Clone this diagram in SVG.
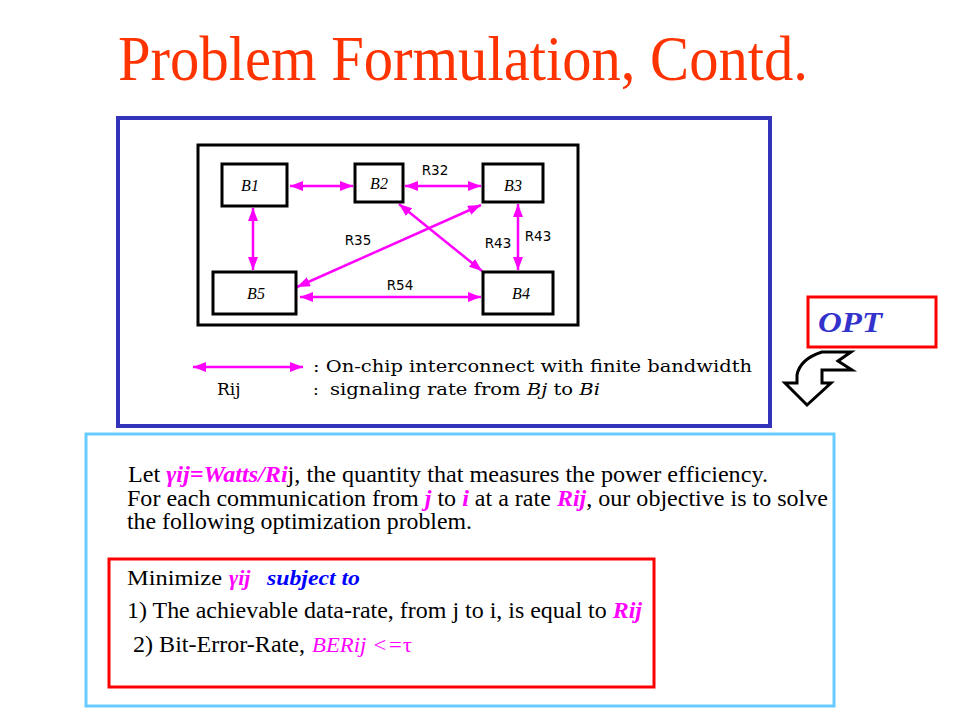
<svg xmlns="http://www.w3.org/2000/svg" width="960" height="720" viewBox="0 0 960 720">
  <defs>
    <marker id="ah" viewBox="0 0 13 10" refX="13" refY="5" markerWidth="13" markerHeight="10" markerUnits="userSpaceOnUse" orient="auto-start-reverse">
      <path d="M0,0 L13,5 L0,10 Z" fill="#FF00FF"/>
    </marker>
    <style>
      .box { fill: #FFFFFF; stroke: #000000; stroke-width: 3; }
      .blab { font-family: "Liberation Serif", "Times New Roman", serif; font-style: italic; font-size: 16px; fill: #000; text-anchor: middle; }
      .elab { font-family: "DejaVu Sans", Verdana, sans-serif; font-size: 13.5px; fill: #000; text-anchor: middle; }
      .link { stroke: #FF00FF; stroke-width: 2.5; fill: none; marker-start: url(#ah); marker-end: url(#ah); }
      .serif { font-family: "Liberation Serif", "Times New Roman", serif; fill: #000; }
      .leg { font-family: "DejaVu Serif", "Liberation Serif", serif; font-size: 17px; fill: #000; }
      .mg { fill: #FF00FF; font-weight: bold; font-style: italic; }
      .mgi { fill: #FF00FF; font-style: italic; }
      .bl { fill: #0000FF; font-weight: bold; font-style: italic; }
    </style>
  </defs>
  <rect width="960" height="720" fill="#FFFFFF"/>

  <text x="118" y="80" font-family="Liberation Serif, Times New Roman, serif" font-size="63" fill="#FF3300" textLength="690" lengthAdjust="spacingAndGlyphs">Problem Formulation, Contd.</text>

  <!-- Upper diagram panel -->
  <rect x="118" y="118" width="652" height="308" fill="none" stroke="#3333BB" stroke-width="4"/>
  <rect x="198" y="145" width="380" height="180" fill="none" stroke="#000000" stroke-width="3"/>

  <g id="connectors">
    <line class="link" x1="290" y1="186" x2="353" y2="186"/>
    <line class="link" x1="405" y1="186" x2="481" y2="186"/>
    <line class="link" x1="253" y1="208" x2="253" y2="270"/>
    <line class="link" x1="518" y1="204" x2="518" y2="270"/>
    <line class="link" x1="481" y1="205" x2="297" y2="287"/>
    <line class="link" x1="399" y1="204" x2="482" y2="271"/>
    <line class="link" x1="300" y1="297" x2="481" y2="297"/>
    <text class="elab" x="435" y="175">R32</text>
    <text class="elab" x="358" y="245">R35</text>
    <text class="elab" x="498" y="248">R43</text>
    <text class="elab" x="538" y="241">R43</text>
    <text class="elab" x="400" y="290">R54</text>
  </g>

  <g id="B1"><rect class="box" x="222" y="164" width="65" height="42"/><text class="blab" x="250" y="191">B1</text></g>
  <g id="B2"><rect class="box" x="355" y="164" width="48" height="38"/><text class="blab" x="379" y="189">B2</text></g>
  <g id="B3"><rect class="box" x="483" y="164" width="60" height="38"/><text class="blab" x="513" y="191">B3</text></g>
  <g id="B5"><rect class="box" x="213" y="272" width="83" height="42"/><text class="blab" x="256" y="299">B5</text></g>
  <g id="B4"><rect class="box" x="483" y="272" width="70" height="42"/><text class="blab" x="521" y="299">B4</text></g>

  <!-- Legend -->
  <g id="legend">
    <line class="link" x1="193" y1="367" x2="303" y2="367"/>
    <text class="leg" x="313" y="372" textLength="439" lengthAdjust="spacingAndGlyphs">: On-chip interconnect with finite bandwidth</text>
    <text class="leg" x="217" y="395">Rij</text>
    <text class="leg" x="313" y="395">:</text>
    <text class="leg" x="330" y="395" textLength="270" lengthAdjust="spacingAndGlyphs">signaling rate from <tspan font-style="italic">Bj</tspan> to <tspan font-style="italic">Bi</tspan></text>
  </g>

  <!-- OPT -->
  <g id="opt">
    <rect x="808" y="297" width="128" height="50" fill="#FFFFFF" stroke="#FF0000" stroke-width="3"/>
    <text x="818" y="332" font-family="Liberation Serif, Times New Roman, serif" font-size="30" font-weight="bold" font-style="italic" fill="#3333CC" textLength="64" lengthAdjust="spacingAndGlyphs">OPT</text>
    <path d="M822,352 L851,352 L838,361 L852,370 L822,370 L822,383 L831,383 L807,405 L785,383 L797,383 L797,375 Q800,359 822,352 Z" fill="#FFFFFF" stroke="#000000" stroke-width="3" stroke-linejoin="miter"/>
  </g>

  <!-- Lower text panel -->
  <g id="text-panel">
    <rect x="86" y="434" width="748" height="272" fill="none" stroke="#66CCFF" stroke-width="3"/>
    <text class="serif" x="128" y="482" font-size="23" textLength="640" lengthAdjust="spacingAndGlyphs">Let <tspan class="mg">γij=Watts/Ri</tspan>j, the quantity that measures the power efficiency.</text>
    <text class="serif" x="127" y="506" font-size="23" textLength="701" lengthAdjust="spacingAndGlyphs">For each communication from <tspan class="mg">j</tspan> to <tspan class="mg">i</tspan> at a rate <tspan class="mg">Rij</tspan>, our objective is to solve</text>
    <text class="serif" x="127" y="529" font-size="23" textLength="345" lengthAdjust="spacingAndGlyphs">the following optimization problem.</text>
  </g>

  <g id="opt-problem">
    <rect x="109" y="559" width="545" height="128" fill="none" stroke="#FF0000" stroke-width="3"/>
    <text class="serif" x="127" y="585" font-size="22" textLength="95" lengthAdjust="spacingAndGlyphs">Minimize</text>
    <text class="serif mg" x="229" y="585" font-size="22">γij</text>
    <text class="serif bl" x="267" y="585" font-size="20" textLength="93" lengthAdjust="spacingAndGlyphs">subject to</text>
    <text class="serif" x="127" y="618" font-size="23" textLength="515" lengthAdjust="spacingAndGlyphs">1) The achievable data-rate, from j to i, is equal to <tspan class="mg">Rij</tspan></text>
    <text class="serif" x="133" y="652" font-size="23" textLength="172" lengthAdjust="spacingAndGlyphs">2) Bit-Error-Rate,</text>
    <text class="serif mgi" x="312" y="652" font-size="22" textLength="100" lengthAdjust="spacingAndGlyphs">BERij &lt;=<tspan font-style="normal">τ</tspan></text>
  </g>
</svg>
